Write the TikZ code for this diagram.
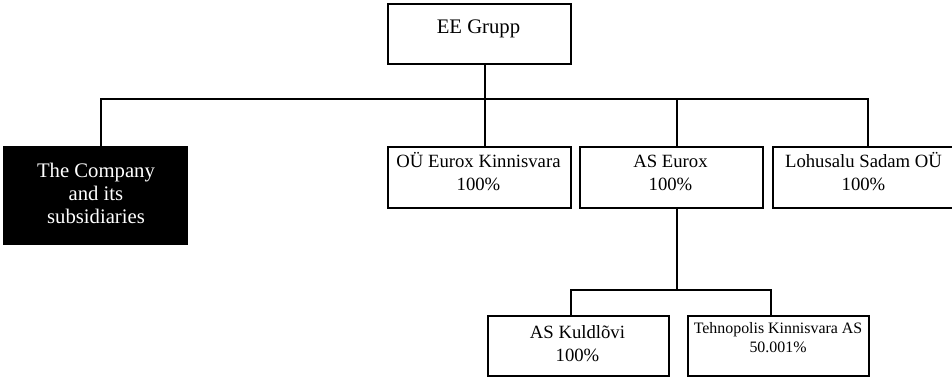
\documentclass[tikz,border=0pt]{standalone}
\usepackage{fontspec}
\setmainfont{Liberation Serif}
\tikzset{
  orgbox/.style={draw, line width=1.7pt, rectangle, inner sep=0pt, anchor=north west},
  txt/.style={anchor=base, inner sep=0pt},
  conn/.style={line width=1.7pt},
  bigfont/.style={font=\fontsize{20.7}{23}\selectfont},
  midfont/.style={font=\fontsize{18.7}{23}\selectfont},
  smallfont/.style={font=\fontsize{15.9}{19.5}\selectfont}
}
\newcommand{\lns}[1]{\begin{tabular}[t]{@{}c@{}}#1\end{tabular}}
\begin{document}
\begin{tikzpicture}[x=1pt,y=-1pt]
\useasboundingbox (0,0) rectangle (952,378);
\clip (0,0) rectangle (952,378);
\fill[white] (0,0) rectangle (952,378);

% boxes
\node[orgbox, minimum width=183pt, minimum height=60pt] (ee) at (387,3) {};
\node[orgbox, fill=black, minimum width=183pt, minimum height=97pt] (co) at (3,146) {};
\node[orgbox, minimum width=183pt, minimum height=61pt] (ou) at (387,146) {};
\node[orgbox, minimum width=183pt, minimum height=61pt] (as) at (579,146) {};
\node[orgbox, minimum width=183pt, minimum height=61pt] (lo) at (772,146) {};
\node[orgbox, minimum width=181pt, minimum height=60pt] (ku) at (487,315) {};
\node[orgbox, minimum width=181pt, minimum height=60pt] (te) at (687,315) {};

% texts
\node[txt, bigfont] (eet) at (478.5,33) {EE Grupp};
\node[txt, bigfont, text=white] (cot) at (96,177) {\lns{The Company\\and its\\subsidiaries}};
\node[txt, midfont] (out) at (478.5,167) {\lns{OÜ Eurox Kinnisvara\\100\%}};
\node[txt, midfont] (ast) at (670.5,167) {\lns{AS Eurox\\100\%}};
\node[txt, midfont] (lot) at (863.5,167) {\lns{Lohusalu Sadam OÜ\\100\%}};
\node[txt, midfont] (kut) at (577.5,338) {\lns{AS Kuldlõvi\\100\%}};
\node[txt, smallfont] (tet) at (778,333) {\lns{Tehnopolis Kinnisvara AS\\50.001\%}};

% bus coordinates
\coordinate (bus) at (0,99);
\coordinate (bus2) at (0,290);

% top level connectors
\draw[conn] ([xshift=5.5pt]ee.south) -- ([xshift=5.5pt]ee.south |- bus);
\draw[conn] ([xshift=5.5pt]co.north) |- ([xshift=3.5pt]lo.north |- bus) -- ([xshift=3.5pt]lo.north);
\draw[conn] ([xshift=5.5pt]ou.north) -- ([xshift=5.5pt]ou.north |- bus);
\draw[conn] ([xshift=5.5pt]as.north) -- ([xshift=5.5pt]as.north |- bus);

% lower connectors
\draw[conn] ([xshift=5.5pt]as.south) -- ([xshift=5.5pt]as.south |- bus2);
\draw[conn] ([xshift=-7.5pt]ku.north) |- ([xshift=-7.5pt]te.north |- bus2) -- ([xshift=-7.5pt]te.north);
\end{tikzpicture}
\end{document}
